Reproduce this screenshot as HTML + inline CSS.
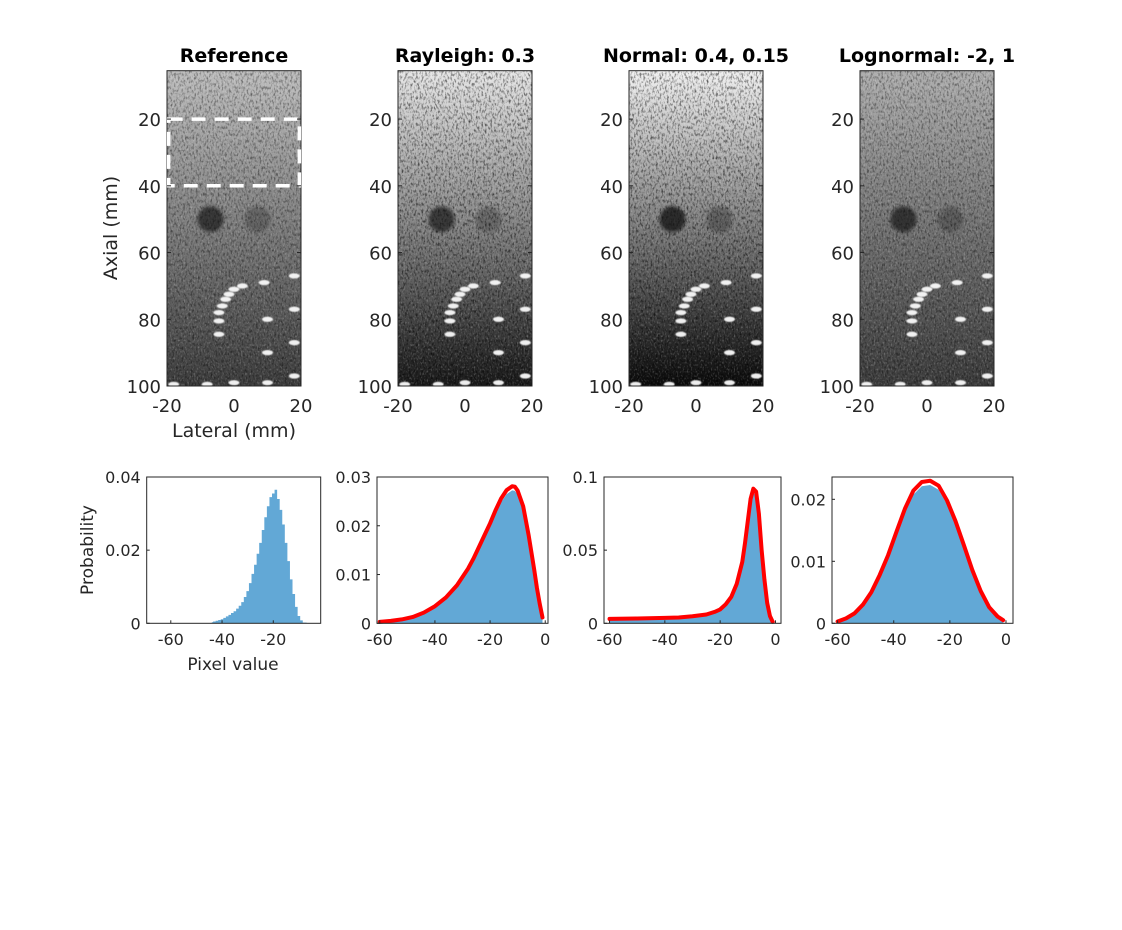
<!DOCTYPE html>
<html><head><meta charset="utf-8"><style>
body{margin:0;background:#fff}
svg{display:block;font-family:"DejaVu Sans","Liberation Sans",sans-serif}
</style></head><body>
<svg id="fig" width="1122" height="930" viewBox="0 0 1122 930" xmlns="http://www.w3.org/2000/svg">
<defs>
<filter id="speckle" x="0" y="0" width="100%" height="100%">
<feTurbulence type="fractalNoise" baseFrequency="0.55 0.3" numOctaves="2" seed="3"/>
<feColorMatrix type="matrix" values="0 0 0 0 0  0 0 0 0 0  0 0 0 0 0  0 0 0 -2.4 1.3"/>
</filter>
<filter id="speckle2" x="0" y="0" width="100%" height="100%">
<feTurbulence type="fractalNoise" baseFrequency="0.7 0.45" numOctaves="1" seed="9"/>
<feColorMatrix type="matrix" values="0 0 0 0 1  0 0 0 0 1  0 0 0 0 1  0 0 0 2.6 -1.35"/>
</filter>
<filter id="blur1"><feGaussianBlur stdDeviation="1.6"/></filter>
<filter id="blur2"><feGaussianBlur stdDeviation="0.6"/></filter>
</defs>
</svg>
<script>
// ---------- data ----------
const imgTitles = ["Reference","Rayleigh: 0.3","Normal: 0.4, 0.15","Lognormal: -2, 1"];
const imgTopGray = [190, 230, 240, 175];
const imgMidGray = [125, 130, 125, 115];
const imgBotGray = [60, 25, 10, 60];
const axialTicks = [20,40,60,80,100];
const lateralTicks = [-20,0,20];
const cystX = [-7, 7];
const cystY = [50, 50];
const cystDark = [0.75, 0.3];
const dotX = [2.5,0,-1.5,-2.5,-3.5,-4.5,-4.5,-4.5,9,18,10,18,10,18,10,18,0,-8,-18];
const dotY = [70,71,72.5,74,76,78,80.5,84.5,69,67,80,77,90,87,99,97,99,99.5,99.5];
const roiX = [-19.5, 19.5];
const roiY = [20, 40];

const refBins = [-44,-43,-42,-41,-40,-39,-38,-37,-36,-35,-34,-33,-32,-31,-30,-29,-28,-27,-26,-25,-24,-23,-22,-21,-20,-19,-18,-17,-16,-15,-14,-13,-12,-11,-10,-9,-8];
const refVals = [0.0003,0.0005,0.0007,0.0009,0.0011,0.0015,0.0019,0.0023,0.0028,0.0033,0.004,0.0048,0.0058,0.0072,0.0088,0.011,0.0135,0.016,0.019,0.022,0.0255,0.029,0.032,0.0345,0.0355,0.0365,0.034,0.031,0.027,0.022,0.017,0.012,0.008,0.0045,0.002,0.0008,0.0002];

const rayX = [-60,-56,-52,-48,-44,-40,-36,-32,-28,-26,-24,-22,-20,-18,-16,-14,-12,-11,-10,-8,-6,-5,-4,-3,-2,-1];
const rayY = [0.0003,0.0005,0.0008,0.0013,0.0022,0.0035,0.0053,0.0078,0.0112,0.0133,0.0157,0.0181,0.0205,0.0232,0.0256,0.0273,0.0281,0.0280,0.0272,0.0240,0.0180,0.0145,0.0110,0.0072,0.0040,0.0012];

const norX = [-60,-50,-40,-35,-30,-25,-22,-20,-18,-16,-14,-12,-11,-10,-9,-8,-7,-6,-5,-4,-3,-2,-1];
const norY = [0.003,0.0033,0.0037,0.004,0.0048,0.006,0.0078,0.0095,0.013,0.018,0.027,0.042,0.055,0.07,0.085,0.092,0.09,0.075,0.05,0.03,0.014,0.005,0.001];

const logX = [-60,-57,-54,-51,-48,-45,-42,-39,-36,-33,-30,-27,-24,-21,-18,-15,-12,-9,-6,-3,-1];
const logY = [0.0003,0.0008,0.0016,0.003,0.005,0.0078,0.011,0.0148,0.0185,0.0214,0.0228,0.023,0.0222,0.0198,0.0165,0.0126,0.0086,0.0052,0.0026,0.0011,0.0005];

// ---------- helpers ----------
const NS="http://www.w3.org/2000/svg";
const svg=document.getElementById('fig');
function mk(tag,attrs,parent){const e=document.createElementNS(NS,tag);for(const k in attrs)e.setAttribute(k,attrs[k]);(parent||svg).appendChild(e);return e;}
function txt(s,attrs,parent){const e=mk('text',attrs,parent);e.textContent=s;return e;}
const TC="#262626";

// ---------- image panels ----------
const imgLeft=[167,398,629,860], imgW=134, imgTop=70.7, imgBot=386;
const yOf=(mm)=>imgBot-(100-mm)*(imgBot-imgTop)/94.5;
imgTitles.forEach((t,i)=>{
  const L=imgLeft[i], xOf=(mm)=>L+(mm+20)/40*imgW;
  const g=mk('g',{});
  
  
  const gid='grad'+i;
  const lg=mk('linearGradient',{id:gid,x1:0,y1:0,x2:0,y2:1},svg.querySelector('defs'));
  mk('stop',{offset:'0','stop-color':`rgb(${imgTopGray[i]},${imgTopGray[i]},${imgTopGray[i]})`},lg);
  mk('stop',{offset:'0.5','stop-color':`rgb(${imgMidGray[i]},${imgMidGray[i]},${imgMidGray[i]})`},lg);
  mk('stop',{offset:'1','stop-color':`rgb(${imgBotGray[i]},${imgBotGray[i]},${imgBotGray[i]})`},lg);
  const cp=mk('clipPath',{id:'cp'+i},svg.querySelector('defs'));
  mk('rect',{x:L,y:imgTop,width:imgW,height:imgBot-imgTop},cp);
  const inner=mk('g',{'clip-path':`url(#cp${i})`},g);
  mk('rect',{x:L,y:imgTop,width:imgW,height:imgBot-imgTop,fill:`url(#${gid})`},inner);
  mk('rect',{x:L,y:imgTop,width:imgW,height:imgBot-imgTop,filter:'url(#speckle)',opacity:(i==0||i==3)?0.5:0.65},inner);
  mk('rect',{x:L,y:imgTop,width:imgW,height:imgBot-imgTop,filter:'url(#speckle2)',opacity:0.3},inner);
  cystX.forEach((cx,k)=>{
    const c=mk('circle',{cx:xOf(cx),cy:yOf(cystY[k]),r:13,fill:'#111',opacity:cystDark[k]*(i==2?1:0.85),filter:'url(#blur1)'},inner);
    
    
  });
  dotX.forEach((dx,k)=>{
    const d=mk('ellipse',{cx:xOf(dx),cy:yOf(dotY[k]),rx:5.5,ry:2.6,fill:'#fafafa',opacity:0.95,filter:'url(#blur2)'},inner);
    
    
  });
  mk('rect',{x:L,y:imgTop,width:imgW,height:imgBot-imgTop,fill:'none',stroke:TC,'stroke-width':1},g);
  if(i==0){
    const r=mk('rect',{x:xOf(roiX[0]),y:yOf(roiY[0]),width:xOf(roiX[1])-xOf(roiX[0]),height:yOf(roiY[1])-yOf(roiY[0]),fill:'none',stroke:'#fff','stroke-width':3.5,'stroke-dasharray':'14 9'},g);
    
    
  }
  const tt=txt(t,{x:L+imgW/2,y:62,'text-anchor':'middle','font-size':19,'font-weight':'bold',fill:'#000'},g);
  
  
  axialTicks.forEach(v=>{
    mk('line',{x1:L,x2:L+4,y1:yOf(v),y2:yOf(v),stroke:TC},g);
    mk('line',{x1:L+imgW,x2:L+imgW-4,y1:yOf(v),y2:yOf(v),stroke:TC},g);
    const e=txt(String(v),{x:L-6,y:yOf(v)+7,'text-anchor':'end','font-size':18,fill:TC},g);
    
    
  });
  lateralTicks.forEach(v=>{
    const e=txt(String(v),{x:xOf(v),y:412,'text-anchor':'middle','font-size':18,fill:TC},g);
    
    
  });
  if(i==0){
    const a=txt('Axial (mm)',{x:0,y:0,transform:`translate(117,228) rotate(-90)`,'text-anchor':'middle','font-size':19,fill:TC},g);
    
    
    const b=txt('Lateral (mm)',{x:L+imgW/2,y:437,'text-anchor':'middle','font-size':19,fill:TC},g);
    
    
  }
});

// ---------- histograms ----------
const hTop=477, hBot=623.3;
const hists=[
 {L:146.7,R:320.7,x0:-69.4,x1:-1.5,ymax:0.04,yt:[0,0.02,0.04],xt:[-60,-40,-20],bx:refBins,by:refVals,bw:1,curve:false},
 {L:377,R:548,x0:-61,x1:1,ymax:0.03,yt:[0,0.01,0.02,0.03],xt:[-60,-40,-20,0],bx:rayX,by:rayY,curve:true},
 {L:604,R:781,x0:-62,x1:2,ymax:0.1,yt:[0,0.05,0.1],xt:[-60,-40,-20,0],bx:norX,by:norY,curve:true},
 {L:832,R:1013,x0:-62,x1:2.5,ymax:0.0236,yt:[0,0.01,0.02],xt:[-60,-40,-20,0],bx:logX,by:logY,curve:true}
];
hists.forEach((h,i)=>{
  const g=mk('g',{});
  
  
  const xs=v=>h.L+(v-h.x0)/(h.x1-h.x0)*(h.R-h.L);
  const ys=v=>hBot-v/h.ymax*(hBot-hTop);
  let d;
  if(h.curve){
    d='M'+xs(h.bx[0])+','+hBot+' '+h.bx.map((x,k)=>'L'+xs(x)+','+ys(h.by[k]*0.97)).join(' ')+' L'+xs(h.bx[h.bx.length-1])+','+hBot+'Z';
  } else {
    d='M'+xs(h.bx[0])+','+hBot;
    h.bx.forEach((x,k)=>{
      const xl = k==0 ? x : (h.bx[k-1]+x)/2;
      const xr = k==h.bx.length-1 ? x+(h.bw||1) : (x+h.bx[k+1])/2;
      d+=` L${xs(xl)},${ys(h.by[k])} L${xs(xr)},${ys(h.by[k])}`;
      if(k==h.bx.length-1) d+=` L${xs(xr)},${hBot}`;
    });
    d+='Z';
  }
  const bars=mk('path',{d,fill:'#62a8d6'},g);
  
  
  if(h.curve){
    const pts=h.bx.map((x,k)=>xs(x)+','+ys(h.by[k])).join(' ');
    const c=mk('polyline',{points:pts,fill:'none',stroke:'#ff0000','stroke-width':4,'stroke-linejoin':'round','stroke-linecap':'round'},g);
    
    
  }
  mk('rect',{x:h.L,y:hTop,width:h.R-h.L,height:hBot-hTop,fill:'none',stroke:TC},g);
  h.yt.forEach(v=>{
    mk('line',{x1:h.L,x2:h.L+3,y1:ys(v),y2:ys(v),stroke:TC},g);
    const e=txt(String(v),{x:h.L-6,y:ys(v)+6,'text-anchor':'end','font-size':16,fill:TC},g);
    
    
  });
  h.xt.forEach(v=>{
    mk('line',{x1:xs(v),x2:xs(v),y1:hBot,y2:hBot-3,stroke:TC},g);
    const e=txt(String(v),{x:xs(v),y:645,'text-anchor':'middle','font-size':16,fill:TC},g);
    
    
  });
  if(i==0){
    const a=txt('Probability',{x:0,y:0,transform:'translate(93,550) rotate(-90)','text-anchor':'middle','font-size':17,fill:TC},g);
    
    
    const b=txt('Pixel value',{x:233,y:670,'text-anchor':'middle','font-size':17,fill:TC},g);
    
    
  }
});
</script>
</body></html>
